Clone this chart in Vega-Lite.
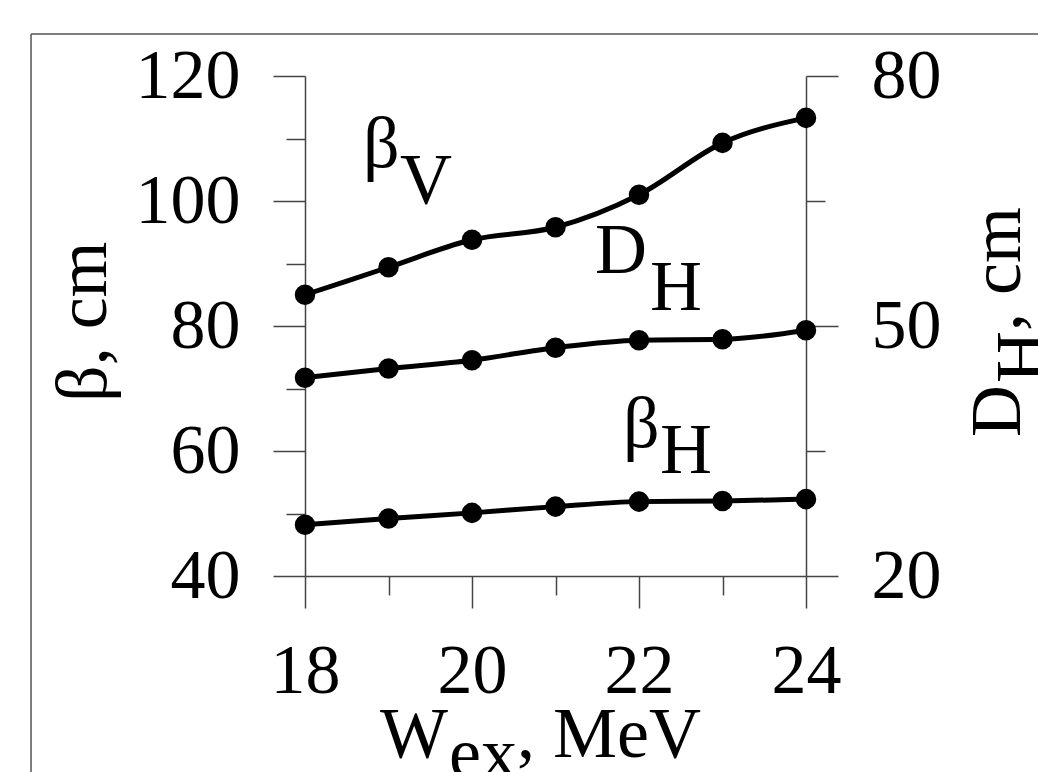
{
  "$schema": "https://vega.github.io/schema/vega-lite/v6.json",
  "width": 501,
  "height": 500,
  "autosize": "none",
  "padding": {"left": 305, "top": 76, "right": 232, "bottom": 196},
  "background": "white",
  "config": {
    "view": {"stroke": null},
    "font": "Liberation Serif",
    "axis": {
      "labelFont": "Liberation Serif",
      "labelFontSize": 70,
      "labelColor": "black",
      "domainColor": "#444",
      "domainWidth": 1.5,
      "tickColor": "#444",
      "tickWidth": 1.5,
      "grid": false,
      "title": null,
      "labelOverlap": false,
      "labelFlush": false
    }
  },
  "datasets": {
    "series": [
      {"w": 18, "value": 85.0, "curve": "βV"},
      {"w": 19, "value": 89.4, "curve": "βV"},
      {"w": 20, "value": 93.8, "curve": "βV"},
      {"w": 21, "value": 95.8, "curve": "βV"},
      {"w": 22, "value": 101.0, "curve": "βV"},
      {"w": 23, "value": 109.3, "curve": "βV"},
      {"w": 24, "value": 113.3, "curve": "βV"},
      {"w": 18, "value": 48.2, "curve": "βH"},
      {"w": 19, "value": 49.2, "curve": "βH"},
      {"w": 20, "value": 50.1, "curve": "βH"},
      {"w": 21, "value": 51.1, "curve": "βH"},
      {"w": 22, "value": 51.9, "curve": "βH"},
      {"w": 23, "value": 52.0, "curve": "βH"},
      {"w": 24, "value": 52.3, "curve": "βH"},
      {"w": 18, "value": 43.8, "curve": "DH"},
      {"w": 19, "value": 44.9, "curve": "DH"},
      {"w": 20, "value": 45.9, "curve": "DH"},
      {"w": 21, "value": 47.4, "curve": "DH"},
      {"w": 22, "value": 48.3, "curve": "DH"},
      {"w": 23, "value": 48.4, "curve": "DH"},
      {"w": 24, "value": 49.5, "curve": "DH"}
    ],
    "frame": [
      {"fx": 14.719, "fx2": 27.5, "fy": 126.72, "fy2": 126.72},
      {"fx": 14.719, "fx2": 14.719, "fy": 126.72, "fy2": -5}
    ],
    "labels": [
      {"lx": 18.695, "ly": 105.44, "txt": "β", "kind": "flat"},
      {"lx": 19.138, "ly": 99.68, "txt": "V", "kind": "flat"},
      {"lx": 21.473, "ly": 88.48, "txt": "D", "kind": "flat"},
      {"lx": 22.132, "ly": 82.56, "txt": "H", "kind": "flat"},
      {"lx": 21.808, "ly": 60.64, "txt": "β", "kind": "flat"},
      {"lx": 22.251, "ly": 56.48, "txt": "H", "kind": "flat"},
      {"lx": 18.898, "ly": 11.04, "txt": "W", "kind": "flat"},
      {"lx": 19.725, "ly": 7.84, "txt": "ex", "kind": "flat"},
      {"lx": 20.539, "ly": 11.04, "txt": ", MeV", "kind": "flat"},
      {"lx": 15.617, "ly": 67.84, "txt": "β, cm", "kind": "upright"},
      {"lx": 26.563, "ly": 62.24, "txt": "D", "kind": "upright"},
      {"lx": 26.862, "ly": 70.88, "txt": "H", "kind": "upright"},
      {"lx": 26.563, "ly": 79.2, "txt": ", cm", "kind": "upright"}
    ]
  },
  "layer": [
    {
      "layer": [
        {
          "data": {"name": "frame"},
          "mark": {"type": "rule", "color": "#555", "strokeWidth": 1.5},
          "encoding": {
            "x": {"field": "fx", "type": "quantitative", "scale": {"domain": [18, 24], "nice": false, "zero": false}, "axis": {"orient": "bottom", "values": [18, 19, 20, 21, 22, 23, 24], "format": "d", "labelExpr": "datum.value % 2 === 0 ? datum.label : ''", "tickSize": {"condition": {"test": "datum.value % 2 === 0", "value": 32}, "value": 19}, "labelPadding": 29, "labelBaseline": "top"}},
            "x2": {"field": "fx2"},
            "y": {"field": "fy", "type": "quantitative", "scale": {"domain": [40, 120], "nice": false, "zero": false}, "axis": {"orient": "left", "values": [40, 50, 60, 70, 80, 90, 100, 110, 120], "format": "d", "labelExpr": "datum.value % 20 === 0 ? datum.label : ''", "tickSize": {"condition": {"test": "datum.value % 20 === 0", "value": 32}, "value": 19}, "labelPadding": 33, "labelBaseline": "middle"}},
            "y2": {"field": "fy2"}
          }
        },
        {
          "data": {"name": "series"},
          "transform": [{"filter": "datum.curve !== 'DH'"}],
          "mark": {"type": "line", "color": "black", "strokeWidth": 5, "interpolate": "monotone"},
          "encoding": {
            "x": {"field": "w", "type": "quantitative", "scale": {"domain": [18, 24], "nice": false, "zero": false}},
            "y": {"field": "value", "type": "quantitative", "scale": {"domain": [40, 120], "nice": false, "zero": false}},
            "detail": {"field": "curve"}
          }
        },
        {
          "data": {"name": "series"},
          "transform": [{"filter": "datum.curve !== 'DH'"}],
          "mark": {"type": "circle", "color": "black", "opacity": 1, "size": 420},
          "encoding": {
            "x": {"field": "w", "type": "quantitative", "scale": {"domain": [18, 24], "nice": false, "zero": false}},
            "y": {"field": "value", "type": "quantitative", "scale": {"domain": [40, 120], "nice": false, "zero": false}}
          }
        },
        {
          "data": {"name": "labels"},
          "transform": [{"filter": "datum.kind === 'flat'"}],
          "mark": {"type": "text", "font": "Liberation Serif", "fontSize": 72, "color": "black", "align": "left", "baseline": "alphabetic"},
          "encoding": {
            "x": {"field": "lx", "type": "quantitative", "scale": {"domain": [18, 24], "nice": false, "zero": false}},
            "y": {"field": "ly", "type": "quantitative", "scale": {"domain": [40, 120], "nice": false, "zero": false}},
            "text": {"field": "txt"}
          }
        },
        {
          "data": {"name": "labels"},
          "transform": [{"filter": "datum.kind === 'upright'"}],
          "mark": {"type": "text", "font": "Liberation Serif", "fontSize": 72, "color": "black", "align": "left", "baseline": "alphabetic", "angle": 270},
          "encoding": {
            "x": {"field": "lx", "type": "quantitative", "scale": {"domain": [18, 24], "nice": false, "zero": false}},
            "y": {"field": "ly", "type": "quantitative", "scale": {"domain": [40, 120], "nice": false, "zero": false}},
            "text": {"field": "txt"}
          }
        }
      ]
    },
    {
      "data": {"name": "series"},
      "transform": [{"filter": "datum.curve === 'DH'"}],
      "layer": [
        {
          "mark": {"type": "line", "color": "black", "strokeWidth": 5, "interpolate": "monotone"},
          "encoding": {
            "x": {"field": "w", "type": "quantitative", "scale": {"domain": [18, 24], "nice": false, "zero": false}},
            "y": {"field": "value", "type": "quantitative", "scale": {"domain": [20, 80], "nice": false, "zero": false}, "axis": {"orient": "right", "values": [20, 35, 50, 65, 80], "format": "d", "labelExpr": "datum.value % 30 === 20 ? datum.label : ''", "tickSize": {"condition": {"test": "datum.value % 30 === 20", "value": 32}, "value": 19}, "labelPadding": 33, "labelBaseline": "middle"}}
          }
        },
        {
          "mark": {"type": "circle", "color": "black", "opacity": 1, "size": 420},
          "encoding": {
            "x": {"field": "w", "type": "quantitative", "scale": {"domain": [18, 24], "nice": false, "zero": false}},
            "y": {"field": "value", "type": "quantitative", "scale": {"domain": [20, 80], "nice": false, "zero": false}}
          }
        }
      ]
    }
  ],
  "resolve": {"scale": {"y": "independent"}, "axis": {"y": "independent"}}
}
